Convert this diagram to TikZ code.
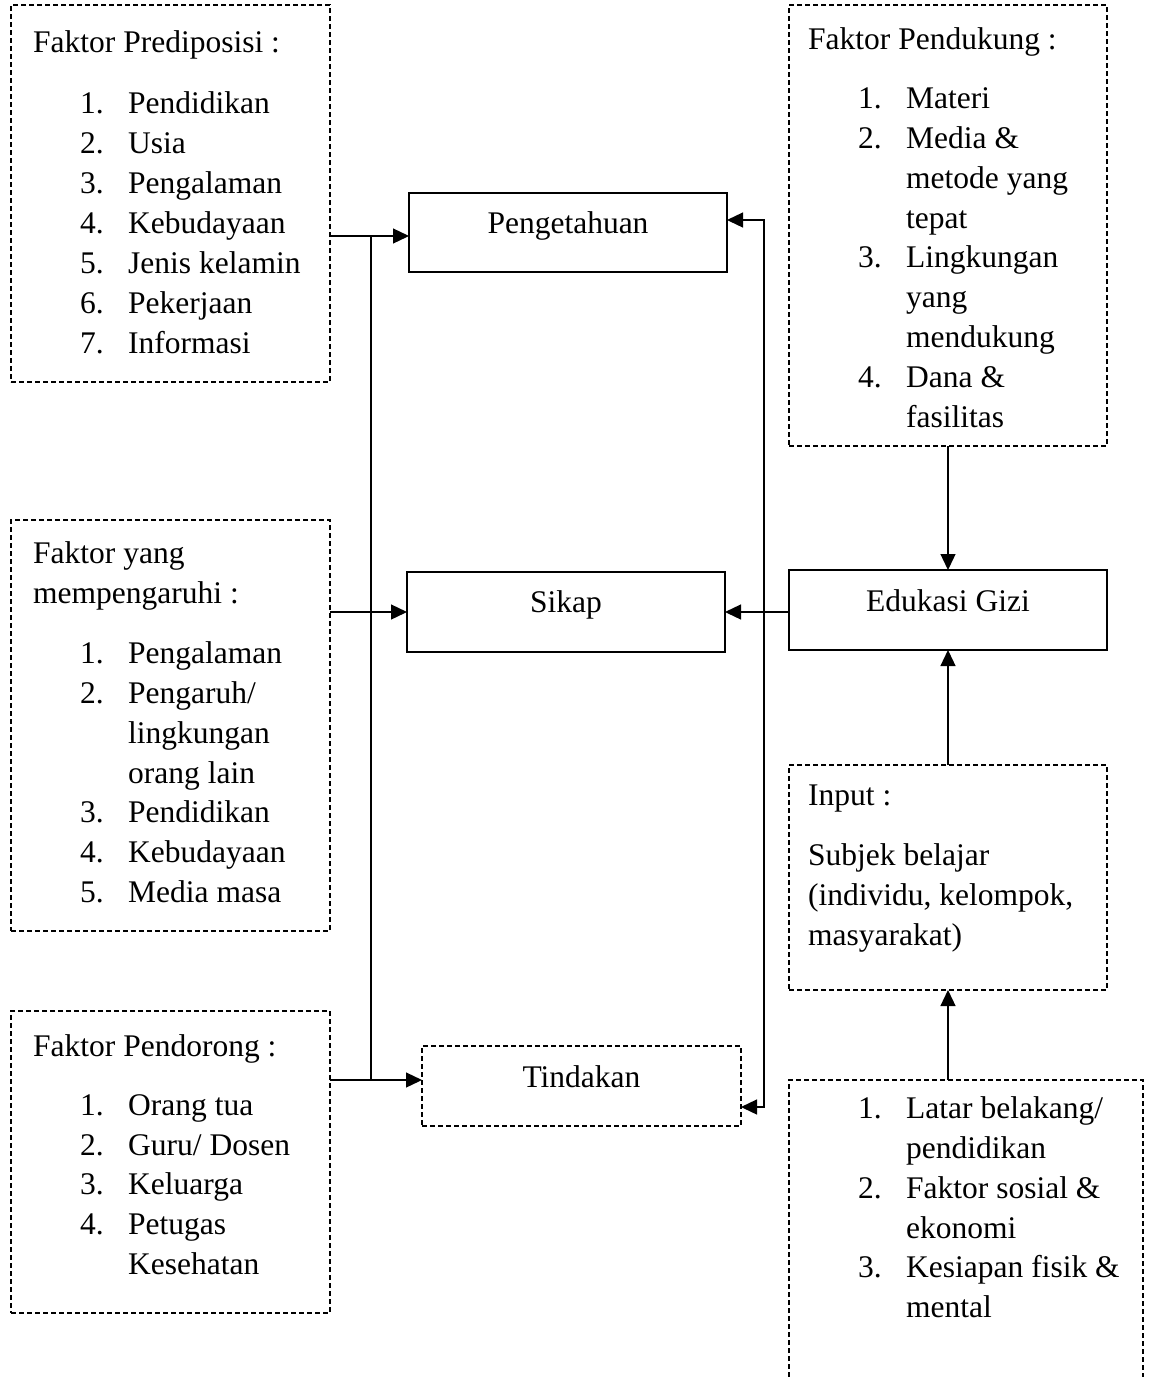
\documentclass[tikz,border=0pt]{standalone}
\usepackage{fontspec}
\setmainfont{Liberation Serif}
\usetikzlibrary{arrows.meta}
\newcommand\numln[5]{\node[txt] (#1n) at (#2,#4) {#3.}; \node[txt] (#1) at (#2+48,#4) {#5};}
\newcommand\txtln[4]{\node[txt] (#1) at (#2,#3) {#4};}
\begin{document}
\begin{tikzpicture}[x=1pt,y=-1pt,
 dbox/.style={draw, dash pattern=on 5pt off 3pt, line width=1.2pt, inner sep=0, outer sep=0},
 sbox/.style={draw, line width=1.3pt, inner sep=0, outer sep=0},
 txt/.style={anchor=base west, inner sep=0, font=\fontsize{31.5}{40}\selectfont},
 ctxt/.style={anchor=base, inner sep=0, font=\fontsize{31.5}{40}\selectfont},
 arr/.style={line width=1.3pt, -{Triangle[length=16pt,width=15pt]}},
 line/.style={line width=1.3pt}
 ]
\useasboundingbox (0,0) rectangle (1150,1377);
\fill[white] (0,0) rectangle (1150,1377);
% boxes
\node[dbox, minimum width=319, minimum height=377] (A) at (170.5,193.5) {};
\node[dbox, minimum width=318, minimum height=441] (B) at (948,225.5) {};
\node[sbox, minimum width=318, minimum height=79] (P) at (568,232.5) {};
\node[sbox, minimum width=318, minimum height=80] (S) at (566,612) {};
\node[sbox, minimum width=318, minimum height=80] (E) at (948,610) {};
\node[dbox, minimum width=319, minimum height=411] (C) at (170.5,725.5) {};
\node[dbox, minimum width=318, minimum height=225] (I) at (948,877.5) {};
\node[dbox, minimum width=319, minimum height=302] (D) at (170.5,1162) {};
\node[dbox, minimum width=319, minimum height=80] (T) at (581.5,1086) {};
\node[inner sep=0, outer sep=0, minimum width=354, minimum height=297] (BR) at (966,1228.5) {};
\draw[dash pattern=on 5pt off 3pt, line width=1.2pt] (BR.south west) -- (BR.north west) -- (BR.north east) -- (BR.south east);
% center labels
\node[ctxt] (Pt) at (568,233) {Pengetahuan};
\node[ctxt] (St) at (566,612) {Sikap};
\node[ctxt] (Et) at (948,611) {Edukasi Gizi};
\node[ctxt] (Tt) at (581.5,1087) {Tindakan};
% box A
\txtln{a0}{33}{52}{Faktor Prediposisi :}
\numln{a1}{80}{1}{113}{Pendidikan}
\numln{a2}{80}{2}{153}{Usia}
\numln{a3}{80}{3}{193}{Pengalaman}
\numln{a4}{80}{4}{233}{Kebudayaan}
\numln{a5}{80}{5}{273}{Jenis kelamin}
\numln{a6}{80}{6}{313}{Pekerjaan}
\numln{a7}{80}{7}{353}{Informasi}
% box B
\txtln{b0}{808}{49}{Faktor Pendukung :}
\numln{b1}{858}{1}{108}{Materi}
\numln{b2}{858}{2}{148}{Media \&}
\txtln{b2a}{906}{188}{metode yang}
\txtln{b2b}{906}{228}{tepat}
\numln{b3}{858}{3}{267}{Lingkungan}
\txtln{b3a}{906}{307}{yang}
\txtln{b3b}{906}{347}{mendukung}
\numln{b4}{858}{4}{387}{Dana \&}
\txtln{b4a}{906}{427}{fasilitas}
% box C
\txtln{c0}{33}{563}{Faktor yang}
\txtln{c0a}{33}{603}{mempengaruhi :}
\numln{c1}{80}{1}{663}{Pengalaman}
\numln{c2}{80}{2}{703}{Pengaruh/}
\txtln{c2a}{128}{743}{lingkungan}
\txtln{c2b}{128}{783}{orang lain}
\numln{c3}{80}{3}{822}{Pendidikan}
\numln{c4}{80}{4}{862}{Kebudayaan}
\numln{c5}{80}{5}{902}{Media masa}
% box D
\txtln{d0}{33}{1056}{Faktor Pendorong :}
\numln{d1}{80}{1}{1115}{Orang tua}
\numln{d2}{80}{2}{1155}{Guru/ Dosen}
\numln{d3}{80}{3}{1194}{Keluarga}
\numln{d4}{80}{4}{1234}{Petugas}
\txtln{d4a}{128}{1274}{Kesehatan}
% input
\txtln{i0}{808}{805}{Input :}
\txtln{i1}{808}{865}{Subjek belajar}
\txtln{i2}{808}{905}{(individu, kelompok,}
\txtln{i3}{808}{945}{masyarakat)}
% bottom right
\numln{r1}{858}{1}{1118}{Latar belakang/}
\txtln{r1a}{906}{1158}{pendidikan}
\numln{r2}{858}{2}{1198}{Faktor sosial \&}
\txtln{r2a}{906}{1238}{ekonomi}
\numln{r3}{858}{3}{1277}{Kesiapan fisik \&}
\txtln{r3a}{906}{1317}{mental}
% connectors
\coordinate (L1) at (371,236);
\coordinate (L3) at (371,1080);
\coordinate (R1) at (764,220);
\coordinate (R2) at (764,1107);
\draw[arr] (A.east |- L1) -- (P.west |- L1);
\draw[line] (L1) -- (L3);
\draw[arr] (C.east |- S.west) -- (S.west);
\draw[arr] (D.east |- L3) -- (T.west |- L3);
\draw[arr] (E.west |- S.east) -- (S.east);
\draw[line width=1.3pt, {Triangle[length=16pt,width=15pt]}-{Triangle[length=16pt,width=15pt]}] (P.east |- R1) -- (R1) -- (R2) -- (T.east |- R2);
\draw[arr] (B.south) -- (E.north);
\draw[arr] (I.north) -- (E.south);
\draw[arr] (I.south |- BR.north) -- (I.south);
\end{tikzpicture}
\end{document}
